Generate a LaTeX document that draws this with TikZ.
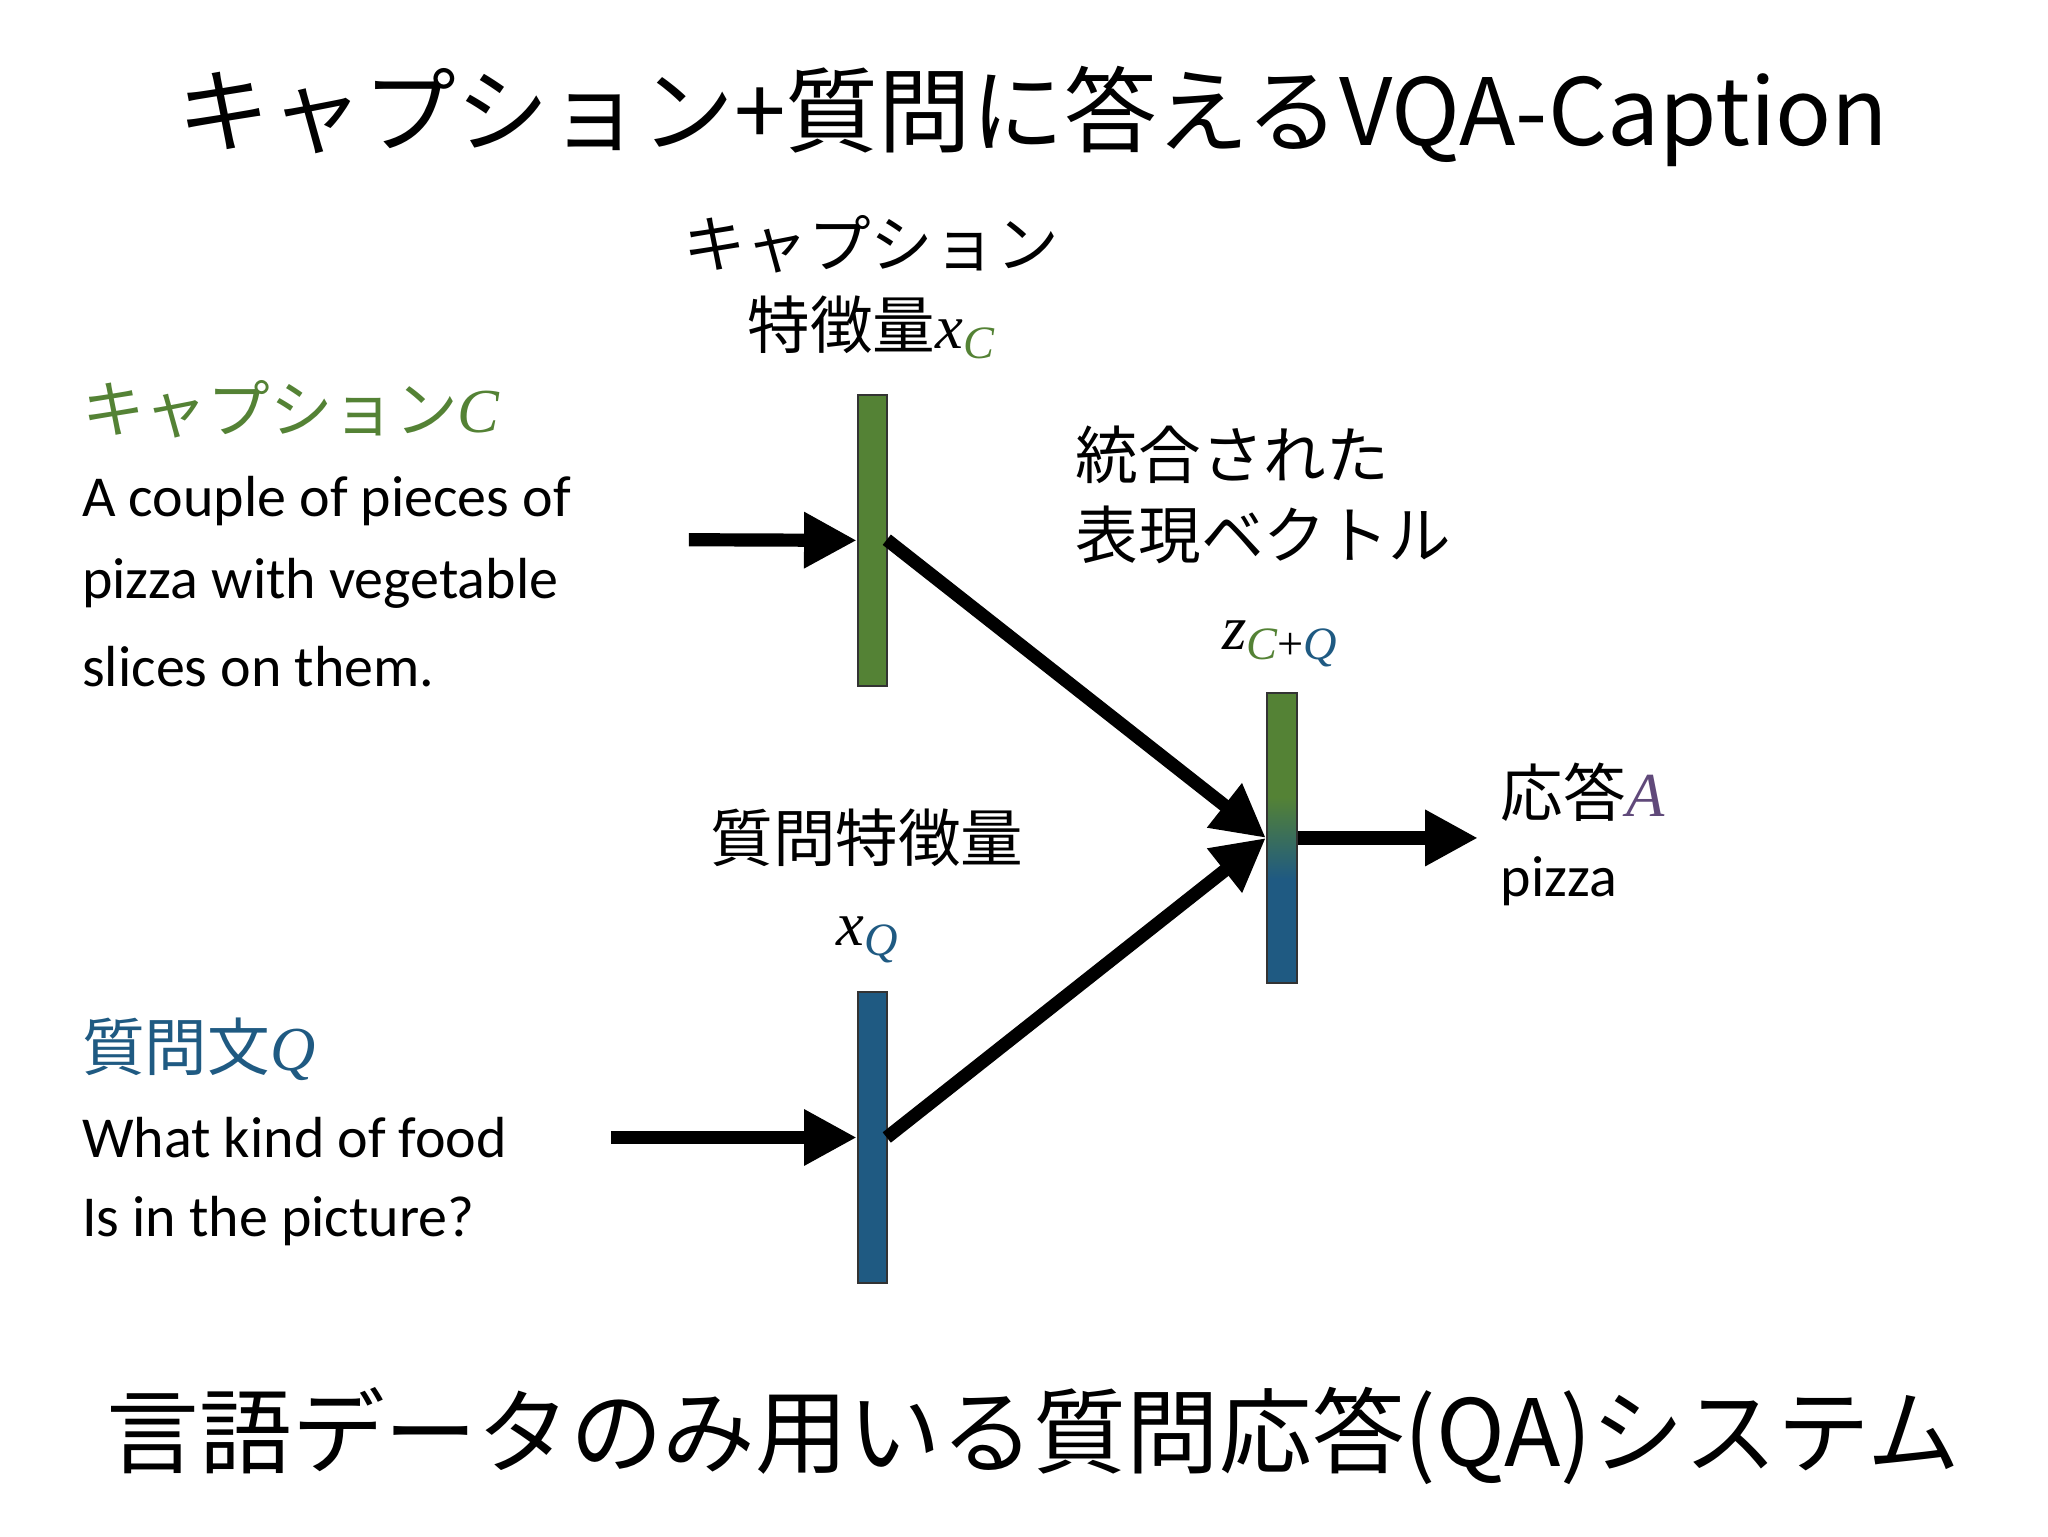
\documentclass[tikz,border=0pt]{standalone}
\usepackage{fontspec}
\setmainfont{Carlito}
\newfontfamily\jp{Noto Sans CJK JP}
\newfontfamily\mi{Liberation Serif}[Scale=1]
\usetikzlibrary{arrows.meta}
\definecolor{cg}{RGB}{84,130,53}
\definecolor{cb}{RGB}{31,90,130}
\definecolor{cp}{RGB}{96,73,122}
\tikzset{
  big/.style={line width=0.2cm,-{Triangle[length=0.8cm,width=0.8cm]}},
  jpl/.style={font=\jp\fontsize{27}{32}\selectfont,inner sep=0pt},
  txt/.style={font=\fontsize{25}{30}\selectfont,inner sep=0pt,anchor=west},
  bar/.style={draw=black!80,line width=0.8pt}
}
\newcommand{\vm}[1]{{\mi\itshape #1}}
\begin{document}
\begin{tikzpicture}[x=0.02cm,y=-0.02cm]
\useasboundingbox (0,0) rectangle (1552,1164);
\node[inner sep=0pt,font=\jp\fontsize{40}{48}\selectfont] (title) at (783,88) {キャプション+質問に答えるVQA-Caption};
\node[inner sep=0pt,font=\jp\fontsize{40}{48}\selectfont] (foot) at (783,1088) {言語データのみ用いる質問応答(QA)システム};
% caption
\node[jpl,anchor=west,text=cg] (capl) at (62,310) {キャプション\vm{C}};
\node[txt] (c1) at (62,380) {A couple of pieces of};
\node[txt] (c2) at (62,442) {pizza with vegetable};
\node[txt] (c3) at (62,505) {slices on them.};
\node[jpl] (xcl1) at (660,185) {キャプション};
\node[jpl] (xcl2) at (660,248) {特徴量\vm{x}\raisebox{-0.3ex}{\fontsize{20}{20}\selectfont\textcolor{cg}{\vm{C}}}};
\node[bar,fill=cg,minimum width=0.44cm,minimum height=4.42cm,inner sep=0pt] (xc) at (661,409.5) {};
\coordinate (ca) at (522,409);
\draw[big] (ca) -- (xc.west);
% question
\node[jpl,anchor=west,text=cb] (ql) at (62,795) {質問文\vm{Q}};
\node[txt] (q1) at (62,862) {What kind of food};
\node[txt] (q2) at (62,925) {Is in the picture?};
\node[jpl] (xql1) at (657,635) {質問特徴量};
\node[jpl] (xql2) at (657,712) {\vm{x}\raisebox{-0.3ex}{\fontsize{20}{20}\selectfont\textcolor{cb}{\vm{Q}}}};
\node[bar,fill=cb,minimum width=0.44cm,minimum height=4.4cm,inner sep=0pt] (xq) at (661,862) {};
\coordinate (qa) at (463,862);
\draw[big] (qa) -- (xq.west);
% combined
\node[jpl,anchor=west] (u1) at (815,345) {統合された};
\node[jpl,anchor=west] (u2) at (815,405) {表現ベクトル};
\node[jpl] (zl) at (970,488) {\vm{z}\raisebox{-0.3ex}{\fontsize{20}{20}\selectfont\textcolor{cg}{\vm{C}}\textcolor{black}{\mi+}\textcolor{cb}{\vm{Q}}}};
\fill[cg] (960,525) rectangle (983,605);
\shade[top color=cg,bottom color=cb] (960,604) rectangle (983,666);
\fill[cb] (960,665) rectangle (983,745);
\node[bar,minimum width=0.46cm,minimum height=4.4cm,inner sep=0pt] (z) at (971.5,635) {};
\coordinate (xcr) at (672,409);
\coordinate (xqr) at (672,862);
\draw[big] (xcr) -- (z.west);
\draw[big] (xqr) -- (z.west);
\coordinate (ae) at (1120,635);
\draw[big] (z.east) -- (ae);
\node[jpl,anchor=west] (al) at (1137,600) {応答\textcolor{cp}{\vm{A}}};
\node[txt] (a1) at (1137,668) {pizza};
\end{tikzpicture}
\end{document}
